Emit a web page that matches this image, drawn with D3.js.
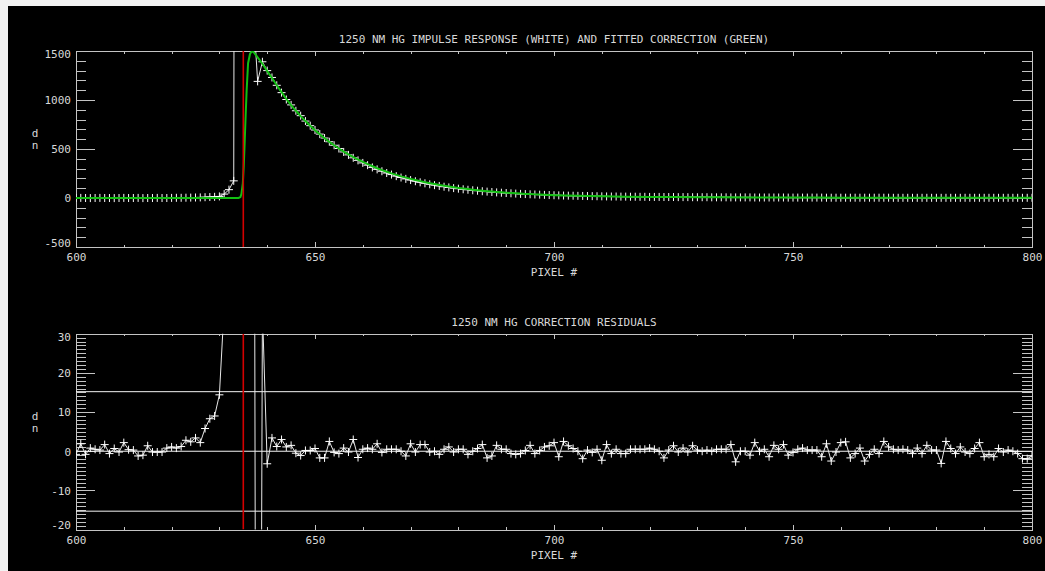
<!DOCTYPE html>
<html>
<head>
<meta charset="utf-8">
<script src="https://cdn.jsdelivr.net/npm/d3@7"></script>
<style>
body { margin: 0; background: #fff; }
svg { display: block; }
text { font-family: "DejaVu Sans Mono", monospace; font-size: 11px; fill: #d8d8d8; }
</style>
</head>
<body>
<svg id="chart" width="1045" height="571"></svg>
<script>
// pixel index of the first sample, one sample per pixel after that
const firstPixel = 600

// measured impulse response (white), pixels 600..800
const impulse = [
    0, 1, 0, -1, 0, 1, 0, 0, -1, 0,
    1, 0, 0, 1, -1, 0, 0, 1, 0, 0,
    1, 2, 2, 3, 4, 5, 6, 8, 10, 12,
    16, 40, 85, 175, 30000, 30000, 15000, 1970, 1190, 1390,
    1300, 1230, 1150, 1075, 1005, 950, 890, 840, 785, 738,
    694, 652, 612, 574, 538, 505, 470, 440, 410, 384,
    358, 335, 312, 292, 273, 255, 239, 223, 209, 195,
    183, 171, 160, 150, 140, 131, 123, 115, 108, 101,
    95, 89, 84, 79, 74, 69, 65, 61, 57, 54,
    51, 48, 45, 42, 40, 38, 36, 34, 32, 30,
    28, 27, 25, 24, 23, 22, 21, 20, 19, 18,
    17, 16, 15, 15, 14, 14, 13, 13, 12, 12,
    11, 11, 11, 10, 10, 10, 9, 9, 9, 8,
    8, 8, 8, 7, 7, 7, 7, 6, 6, 6,
    6, 6, 5, 5, 5, 5, 5, 5, 5, 4,
    4, 4, 4, 4, 4, 4, 4, 3, 3, 3,
    3, 3, 3, 3, 3, 3, 3, 3, 3, 3,
    3, 2, 2, 2, 2, 2, 2, 2, 2, 2,
    2, 2, 2, 2, 2, 2, 2, 2, 2, 2,
    2, 2, 2, 2, 2, 2, 2, 2, 2, 2,
    2
]

// fitted correction (green)
const fitPixel = [
    600, 634.0, 634.4, 634.6, 634.9, 635.1, 635.3, 635.5, 635.7, 636.0, 636.4, 636.8, 637.2, 637.6,
    638, 639, 640, 641, 642, 643, 644, 645, 646, 647, 648, 649,
    650, 651, 652, 653, 654, 655, 656, 657, 658, 659,
    660, 661, 662, 663, 664, 665, 666, 667, 668, 669,
    670, 671, 672, 673, 674, 675, 676, 677, 678, 679,
    680, 681, 682, 683, 684, 685, 686, 687, 688, 689,
    690, 691, 692, 693, 694, 695, 696, 697, 698, 699,
    700, 705, 710, 715, 720, 725, 730, 735, 740, 745,
    750, 755, 760, 765, 770, 775, 780, 785, 790, 795, 800
]
const fitValue = [
    0, 0, 10, 40, 150, 330, 590, 850, 1100, 1375, 1470, 1500, 1485, 1460,
    1435, 1370, 1295, 1225, 1150, 1080, 1010, 948, 890, 836, 785, 737,
    692, 650, 610, 573, 538, 505, 474, 445, 418, 392,
    368, 345, 324, 304, 285, 268, 251, 236, 221, 208,
    195, 183, 172, 161, 151, 142, 133, 125, 117, 110,
    103, 97, 91, 85, 80, 75, 70, 66, 62, 58,
    54, 51, 48, 45, 42, 40, 37, 35, 33, 31,
    29, 22, 17, 14, 11, 10, 8, 7, 6, 5,
    4, 4, 3, 3, 3, 2, 2, 2, 2, 2, 2
]

// correction residuals, pixels 600..800
const residuals = [
    -0.8, 1.9, -0.8, 0.8, 0.5, 0.3, 1.7, -0.6, 0.7, -0.2,
    2.2, 0.4, 0.3, -1.2, -1.0, 1.4, -0.2, -0.2, -0.2, 0.8,
    1.1, 0.8, 1.2, 2.8, 2.4, 3.4, 2.2, 5.8, 8.3, 9.0,
    14.4, 37, 80, 200, 500, 800, 600, 250, -300, 36,
    -3.2, 3.4, 1.2, 3.0, 1.1, 1.5, -0.5, -1.1, 0.2, 0.2,
    0.7, -1.7, -1.7, 2.5, -0.3, -0.6, 0.8, -0.2, 3.0, -1.6,
    0.5, 0.8, 0.5, 1.9, -0.3, 0.5, 0.5, 0.5, 0.0, -1.2,
    1.9, -0.2, 1.7, 1.7, -0.2, 0.0, -0.8, 0.5, 1.1, -0.2,
    0.5, 0.5, -0.8, 0.0, 0.7, 1.7, -1.7, -1.2, 1.5, 0.5,
    0.5, -0.6, -0.8, -0.6, 0.2, 1.5, -0.6, 0.2, 1.1, 1.4,
    2.2, -1.4, 2.5, 1.4, 0.7, 0.0, -1.9, 0.3, -0.3, 0.5,
    -2.3, 1.7, -0.6, 0.5, -0.6, -0.6, 0.5, 0.5, 0.5, 0.5,
    0.8, 0.5, 0.0, -1.7, 0.3, 1.4, -0.2, 0.8, -0.2, 1.4,
    0.3, 0.0, 0.3, 0.0, 0.5, 0.5, 0.5, 1.7, -2.7, 0.0,
    0.0, -1.0, 2.2, 0.0, 0.5, -1.4, 1.5, 0.5, 1.7, -1.0,
    -0.3, 0.5, 0.8, 0.3, 0.3, 0.3, -1.4, 1.9, -2.5, -0.2,
    2.2, 2.4, -1.7, -0.6, 0.8, -2.5, -0.8, 0.5, -0.6, 2.5,
    1.1, 0.5, 0.3, 0.5, 0.3, -0.6, 0.8, -0.6, 1.5, 0.3,
    0.3, -3.1, 2.5, 0.7, -0.6, 1.1, -0.2, -0.6, 0.7, 2.2,
    -1.4, -0.8, -1.4, 0.7, -0.2, 0.3, 0.0, -0.6, -1.9, -1.9,
    -1.2
]

const pulsePixel = 635              // red marker
const residualLevels = [15.2, 0, -15.3]

const xMajorTicks = [600, 650, 700, 750, 800]
const topYTicks = [-500, 0, 500, 1000, 1500]
const bottomYTicks = [-20, -10, 0, 10, 20, 30]

const topTitle = '1250 NM HG IMPULSE RESPONSE (WHITE) AND FITTED CORRECTION (GREEN)'
const bottomTitle = '1250 NM HG CORRECTION RESIDUALS'
const xTitle = 'PIXEL #'

const axisColor = '#c4c4c4'
const dataColor = '#e8e8e8'
const fitColor = '#12c012'
const redColor = '#d40000'

const svg = d3.select('#chart')
svg.append('rect').attr('width', 1045).attr('height', 571).attr('fill', '#f2f2f2')
svg.append('rect').attr('x', 8).attr('y', 6).attr('width', 1037).attr('height', 565).attr('fill', '#000')

const x = d3.scaleLinear().domain([600, 800]).range([76, 1032])
const midX = (x.range()[0] + x.range()[1]) / 2

const styleAxis = (sel) => {
    sel.attr('font-size', null).attr('font-family', null)
    sel.selectAll('.domain').attr('stroke', axisColor).attr('shape-rendering', 'crispEdges')
    sel.selectAll('.tick line').attr('stroke', axisColor).attr('shape-rendering', 'crispEdges')
    sel.selectAll('text').attr('fill', '#d8d8d8')
}

const drawPanel = (p) => {
    const y = d3.scaleLinear().domain(p.domain).range([p.bottom, p.top])
    const g = svg.append('g')
    const [lo, hi] = p.domain
    const yMinor = d3.range(lo, hi + p.minorStep / 2, p.minorStep).filter(v => !p.yTicks.includes(v))
    const xMinor = d3.range(600, 801, 10).filter(v => !xMajorTicks.includes(v))

    g.append('clipPath').attr('id', p.id)
        .append('rect')
        .attr('x', x(600)).attr('y', p.top)
        .attr('width', x(800) - x(600)).attr('height', p.bottom - p.top)

    // x axes, bottom with labels, top without
    g.append('g').attr('transform', `translate(0,${p.bottom})`)
        .call(d3.axisBottom(x).tickValues(xMinor).tickSize(-2.5).tickSizeOuter(0).tickFormat(''))
        .call(styleAxis)
    g.append('g').attr('transform', `translate(0,${p.bottom})`)
        .call(d3.axisBottom(x).tickValues(xMajorTicks).tickSize(-5).tickSizeOuter(0).tickFormat(d => String(d)))
        .call(styleAxis)
        .selectAll('text').attr('y', 10.5).attr('dy', '0.35em')
    g.append('g').attr('transform', `translate(0,${p.top})`)
        .call(d3.axisTop(x).tickValues(xMinor).tickSize(-2.5).tickSizeOuter(0).tickFormat(''))
        .call(styleAxis)
    g.append('g').attr('transform', `translate(0,${p.top})`)
        .call(d3.axisTop(x).tickValues(xMajorTicks).tickSize(-5).tickSizeOuter(0).tickFormat(''))
        .call(styleAxis)

    // y axes, left with labels, right without
    g.append('g').attr('transform', `translate(${x(600)},0)`)
        .call(d3.axisLeft(y).tickValues(yMinor).tickSize(-10).tickSizeOuter(0).tickFormat(''))
        .call(styleAxis)
    g.append('g').attr('transform', `translate(${x(600)},0)`)
        .call(d3.axisLeft(y).tickValues(p.yTicks).tickSize(-19).tickSizeOuter(0).tickPadding(5).tickFormat(d => String(d)))
        .call(styleAxis)
        .selectAll('text')
        .attr('dy', '0.35em')
        .attr('y', d => d === hi ? 3 : d === lo ? -4.5 : 0)
    g.append('g').attr('transform', `translate(${x(800)},0)`)
        .call(d3.axisRight(y).tickValues(yMinor).tickSize(-10).tickSizeOuter(0).tickFormat(''))
        .call(styleAxis)
    g.append('g').attr('transform', `translate(${x(800)},0)`)
        .call(d3.axisRight(y).tickValues(p.yTicks).tickSize(-19).tickSizeOuter(0).tickFormat(''))
        .call(styleAxis)

    // titles
    g.append('text').attr('x', midX).attr('y', p.top - 11.5).attr('dy', '0.35em')
        .attr('text-anchor', 'middle').text(p.title)
    g.append('text').attr('x', midX).attr('y', p.bottom + 25.5).attr('dy', '0.35em')
        .attr('text-anchor', 'middle').text(xTitle)
    const midY = (p.top + p.bottom) / 2
    g.append('text').attr('x', 35).attr('y', midY - 15.5).attr('dy', '0.35em')
        .attr('text-anchor', 'middle').text('d')
    g.append('text').attr('x', 35).attr('y', midY - 3.4).attr('dy', '0.35em')
        .attr('text-anchor', 'middle').text('n')

    const plot = g.append('g').attr('clip-path', `url(#${p.id})`)
    return { y, plot }
}

const asPoints = vals => vals.map((v, i) => ({ p: firstPixel + i, v }))

const drawData = (plot, y, pts) => {
    const line = d3.line().x(d => x(d.p)).y(d => y(d.v))
    plot.append('path').datum(pts)
        .attr('d', line)
        .attr('fill', 'none').attr('stroke', dataColor).attr('stroke-width', 1)
    plot.append('g').selectAll('path')
        .data(pts)
        .join('path')
        .attr('d', d => `M${x(d.p) - 4},${y(d.v)}h8M${x(d.p)},${y(d.v) - 4}v8`)
        .attr('stroke', '#fff').attr('stroke-width', 1).attr('fill', 'none')
}

const drawRed = (plot, y) => {
    plot.append('line')
        .attr('x1', x(pulsePixel)).attr('x2', x(pulsePixel))
        .attr('y1', y.range()[0]).attr('y2', y.range()[1])
        .attr('stroke', redColor).attr('stroke-width', 1.6)
}

// upper panel
const upper = drawPanel({
    id: 'clipTop', top: 51, bottom: 247, domain: [-500, 1500],
    yTicks: topYTicks, minorStep: 100, title: topTitle
})
drawData(upper.plot, upper.y, asPoints(impulse))
upper.plot.append('path')
    .datum(fitPixel.map((p, i) => ({ p, v: fitValue[i] })))
    .attr('d', d3.line().x(d => x(d.p)).y(d => upper.y(d.v)))
    .attr('fill', 'none').attr('stroke', fitColor).attr('stroke-width', 2)
drawRed(upper.plot, upper.y)

// lower panel
const lower = drawPanel({
    id: 'clipBottom', top: 333.7, bottom: 529.6, domain: [-20, 30],
    yTicks: bottomYTicks, minorStep: 1, title: bottomTitle
})
lower.plot.selectAll('.level')
    .data(residualLevels)
    .join('line')
    .attr('class', 'level')
    .attr('x1', x(600)).attr('x2', x(800))
    .attr('y1', d => lower.y(d)).attr('y2', d => lower.y(d))
    .attr('stroke', '#f4f4f4').attr('stroke-width', 1)
drawData(lower.plot, lower.y, asPoints(residuals))
drawRed(lower.plot, lower.y)
</script>
</body>
</html>
